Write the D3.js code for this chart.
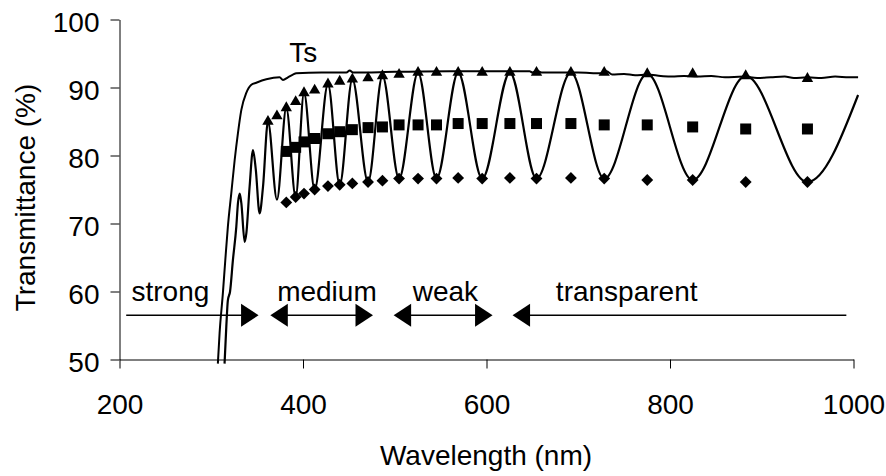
<!DOCTYPE html>
<html>
<head>
<meta charset="utf-8">
<script src="https://cdn.jsdelivr.net/npm/d3@7"></script>
<style>
  body { margin: 0; background: #fff; }
  svg text { font-family: "Liberation Sans", Arial, sans-serif; fill: #000; }
</style>
</head>
<body>
<div id="chart"></div>
<script>
var width = 886, height = 476;

// measured curves, [wavelength nm, transmittance %]
var tsCurve = [
  [307.2, 49.4], [309.1, 53.9], [312.7, 59.8], [315.3, 64.6], [318.1, 69.5], [321.8, 74.4],
  [325.5, 79.3], [329.1, 83.3], [332.8, 86.7], [338.2, 89.2], [343.7, 90.4], [349.1, 90.7],
  [360, 91.2], [374.5, 91.5], [378.2, 91.1], [383.6, 91.5], [389, 91.9], [392.7, 92.1],
  [420, 92.2], [447.3, 92.2], [450.9, 92.5], [454.5, 92.2], [500, 92.3], [560, 92.4],
  [647, 92.4], [650, 92.2], [655, 92.45], [660, 92.2], [700, 92.2], [725, 92.1], [731, 92.4],
  [737, 91.9], [750, 92.0], [762, 91.8], [775, 91.9], [790, 91.7], [802, 91.6], [815, 91.7],
  [830, 91.6], [845, 91.7], [860, 91.5], [880, 91.6], [895, 91.4], [910, 91.5], [925, 91.6],
  [935, 91.4], [950, 91.5], [965, 91.4], [980, 91.6], [995, 91.5], [1005, 91.5]
];

var tCurve = [
  [314.5, 49.4], [316.4, 54.8], [318.1, 58.7], [320.5, 60.0], [323.6, 64.6], [327.3, 69.5],
  [329.1, 73.0], [331.0, 74.4], [332.8, 73.0], [336.4, 67.3], [338.2, 68.5], [341.8, 75.4],
  [345.5, 80.8], [348.5, 78.0], [352.7, 71.5], [356.4, 75.4], [361.8, 85.0], [371.6, 73.5],
  [381.8, 87.0], [392.0, 73.9], [401.1, 89.2], [412.7, 75.0], [427.2, 90.5], [440.0, 75.7],
  [453.8, 91.2], [470.9, 76.1], [486.6, 91.7], [504.7, 76.6], [525.4, 92.2], [545.5, 76.6],
  [569.1, 92.2], [595.3, 76.6], [625.5, 92.2], [654.5, 76.6], [692.0, 92.2], [728.3, 76.6],
  [775.2, 92.0], [824.7, 76.4], [882.5, 91.7], [949.8, 76.1], [1005, 88.9]
];

// envelope points at the fringe extrema
var maxLambda = [361.8, 371.6, 381.8, 392.0, 401.1, 412.7, 427.2, 440.0, 453.8, 470.9, 486.6, 504.7,
  525.4, 545.5, 569.1, 595.3, 625.5, 654.5, 692.0, 728.3, 775.2, 824.7, 882.5, 949.8];
var tMax = [85.0, 85.8, 87.0, 87.9, 89.2, 89.6, 90.5, 90.9, 91.2, 91.4, 91.7, 91.9,
  92.2, 92.2, 92.2, 92.2, 92.2, 92.2, 92.2, 92.2, 92.0, 92.0, 91.7, 91.3];

var extLambda = [381.8, 392.0, 401.1, 412.7, 427.2, 440.0, 453.8, 470.9, 486.6, 504.7, 525.4,
  545.5, 569.1, 595.3, 625.5, 654.5, 692.0, 728.3, 775.2, 824.7, 882.5, 949.8];
var tMid = [80.6, 81.2, 82.0, 82.5, 83.2, 83.5, 83.8, 84.1, 84.2, 84.5, 84.5,
  84.5, 84.7, 84.7, 84.7, 84.7, 84.7, 84.5, 84.5, 84.2, 83.9, 83.9];
var tMin = [73.1, 73.9, 74.4, 75.0, 75.5, 75.7, 75.9, 76.1, 76.3, 76.6, 76.6,
  76.6, 76.7, 76.6, 76.7, 76.6, 76.7, 76.6, 76.4, 76.4, 76.1, 76.1];

// absorption regions
var regionLabels = ["strong", "medium", "weak", "transparent"];
var regionFrom = [207.3, 364.4, 498.8, 628.4];
var regionTo = [351.6, 476.3, 606.6, 992.2];
var regionHeads = ["end", "both", "both", "start"];
var regionLabelAt = [213.1, 371.8, 519.6, 675.6];
var regionLevel = 56.5;

var xTicks = [200, 400, 600, 800, 1000];
var yTicks = [50, 60, 70, 80, 90, 100];

var svg = d3.select("#chart").append("svg")
    .attr("width", width)
    .attr("height", height);

var x = d3.scaleLinear().domain([200, 1000]).range([119.5, 853.5]);
var y = d3.scaleLinear().domain([50, 100]).range([359.5, 19.5]);

// axes
var yAxis = svg.append("g")
    .attr("transform", "translate(119.5,0)")
    .call(d3.axisLeft(y).tickValues(yTicks).tickFormat(d3.format("d"))
        .tickSize(9).tickSizeOuter(0).tickPadding(11));
var xAxis = svg.append("g")
    .attr("transform", "translate(0,359.5)")
    .call(d3.axisBottom(x).tickValues(xTicks).tickFormat(d3.format("d"))
        .tickSize(9).tickSizeOuter(0).tickPadding(26));

svg.selectAll(".tick text")
    .attr("font-size", 28)
    .style("font-family", '"Liberation Sans", Arial, sans-serif');
yAxis.selectAll(".tick text").attr("dy", "0.44em");
svg.selectAll(".domain, .tick line").attr("stroke", "#000").attr("stroke-width", 1);

svg.append("text")
    .attr("transform", "translate(35,197.5) rotate(-90)")
    .attr("text-anchor", "middle")
    .attr("font-size", 28)
    .text("Transmittance (%)");

svg.append("text")
    .attr("x", 486)
    .attr("y", 465)
    .attr("text-anchor", "middle")
    .attr("font-size", 28)
    .text("Wavelength (nm)");

// curves
var line = d3.line()
    .x(function(d) { return x(d[0]); })
    .y(function(d) { return y(d[1]); })
    .curve(d3.curveMonotoneX);

svg.append("path").datum(tsCurve)
    .attr("d", line)
    .attr("fill", "none").attr("stroke", "#000").attr("stroke-width", 2);

svg.append("path").datum(tCurve)
    .attr("d", line)
    .attr("fill", "none").attr("stroke", "#000").attr("stroke-width", 2.2);

svg.append("text")
    .attr("x", x(385))
    .attr("y", 61.5)
    .attr("font-size", 28)
    .text("Ts");

// markers
var tri = d3.symbol().type(d3.symbolTriangle).size(56);
var sq = d3.symbol().type(d3.symbolSquare).size(121);
var dia = d3.symbol().type(d3.symbolSquare).size(70);

svg.append("g").selectAll("path")
    .data(maxLambda)
    .enter().append("path")
    .attr("d", tri)
    .attr("transform", function(d, i) { return "translate(" + x(d) + "," + y(tMax[i]) + ")"; })
    .attr("fill", "#000");

svg.append("g").selectAll("path")
    .data(extLambda)
    .enter().append("path")
    .attr("d", sq)
    .attr("transform", function(d, i) { return "translate(" + x(d) + "," + y(tMid[i]) + ")"; })
    .attr("fill", "#000");

svg.append("g").selectAll("path")
    .data(extLambda)
    .enter().append("path")
    .attr("d", dia)
    .attr("transform", function(d, i) { return "translate(" + x(d) + "," + y(tMin[i]) + ") rotate(45)"; })
    .attr("fill", "#000");

// region arrows
var headLen = 17.5, headHalf = 11.5;
var ay = y(regionLevel);
var arrows = svg.append("g");

regionLabels.forEach(function(label, i) {
    var x0 = x(regionFrom[i]), x1 = x(regionTo[i]);
    var h = regionHeads[i];
    arrows.append("line")
        .attr("x1", h === "end" ? x0 : x0 + headLen - 1)
        .attr("x2", h === "start" ? x1 : x1 - headLen + 1)
        .attr("y1", ay).attr("y2", ay)
        .attr("stroke", "#000").attr("stroke-width", 1.4);
    if (h === "end" || h === "both") {
        arrows.append("path")
            .attr("d", "M" + x1 + "," + ay + "L" + (x1 - headLen) + "," + (ay - headHalf) + "L" + (x1 - headLen) + "," + (ay + headHalf) + "Z")
            .attr("fill", "#000");
    }
    if (h === "start" || h === "both") {
        arrows.append("path")
            .attr("d", "M" + x0 + "," + ay + "L" + (x0 + headLen) + "," + (ay - headHalf) + "L" + (x0 + headLen) + "," + (ay + headHalf) + "Z")
            .attr("fill", "#000");
    }
    arrows.append("text")
        .attr("x", x(regionLabelAt[i]))
        .attr("y", 300.5)
        .attr("font-size", 28)
        .text(label);
});
</script>
</body>
</html>
